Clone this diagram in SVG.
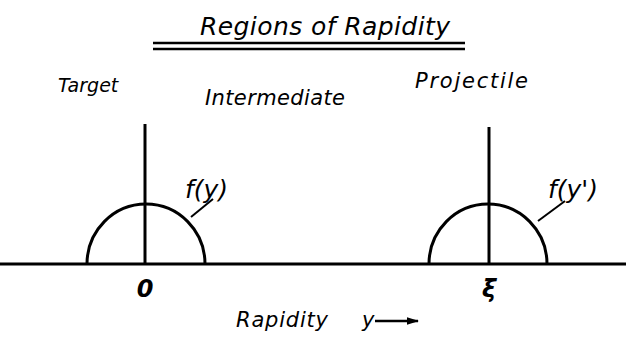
<svg xmlns="http://www.w3.org/2000/svg" width="626" height="343" viewBox="0 0 626 343">
<style>
.t{font-family:"DejaVu Sans","Liberation Sans",sans-serif;font-style:italic;fill:#000}
.ln{stroke:#000;stroke-width:3;fill:none}
</style>
<defs>
<marker id="ah" viewBox="0 0 10 10" refX="9" refY="5" markerWidth="5" markerHeight="5" orient="auto"><path d="M0,2 L10,5 L0,8 z" fill="#000"/></marker>
</defs>
<rect width="626" height="343" fill="#fff"/>
<g id="title">
<text class="t" x="200" y="35" font-size="25" textLength="250">Regions of Rapidity</text>
<line x1="153" y1="43" x2="465" y2="43" stroke="#000" stroke-width="2.5"/>
<line x1="153" y1="49" x2="465" y2="49" stroke="#000" stroke-width="2.5"/>
</g>
<g id="labels">
<text class="t" x="58" y="92" font-size="19">Target</text>
<text class="t" x="205" y="105" font-size="21" textLength="140">Intermediate</text>
<text class="t" x="415" y="88" font-size="21" textLength="113">Projectile</text>
</g>
<g id="connectors">
<line class="ln" x1="0" y1="264" x2="626" y2="264"/>
<line class="ln" x1="145" y1="124" x2="145" y2="264"/>
<line class="ln" x1="489" y1="127" x2="489" y2="264"/>
<line x1="213" y1="199" x2="191" y2="217" stroke="#000" stroke-width="2"/>
<line x1="565" y1="201" x2="538" y2="221" stroke="#000" stroke-width="2"/>
</g>
<g id="left-peak">
<path class="ln" d="M87,264 A59,60 0 0 1 205,264"/>
<text class="t" x="185" y="198" font-size="25">f(y)</text>
<text class="t" x="145" y="297" font-size="24" text-anchor="middle" font-weight="bold">0</text>
</g>
<g id="right-peak">
<path class="ln" d="M429,264 A59,60 0 0 1 547,264"/>
<text class="t" x="548" y="198" font-size="25">f(y')</text>
<text class="t" x="489" y="297" font-size="24" text-anchor="middle" font-weight="bold">ξ</text>
</g>
<g id="axis-label">
<text class="t" x="236" y="327" font-size="21" textLength="92">Rapidity</text>
<text class="t" x="362" y="327" font-size="21">y</text>
<line x1="375" y1="321" x2="418" y2="321" stroke="#000" stroke-width="2.5" marker-end="url(#ah)"/>
</g>
</svg>
